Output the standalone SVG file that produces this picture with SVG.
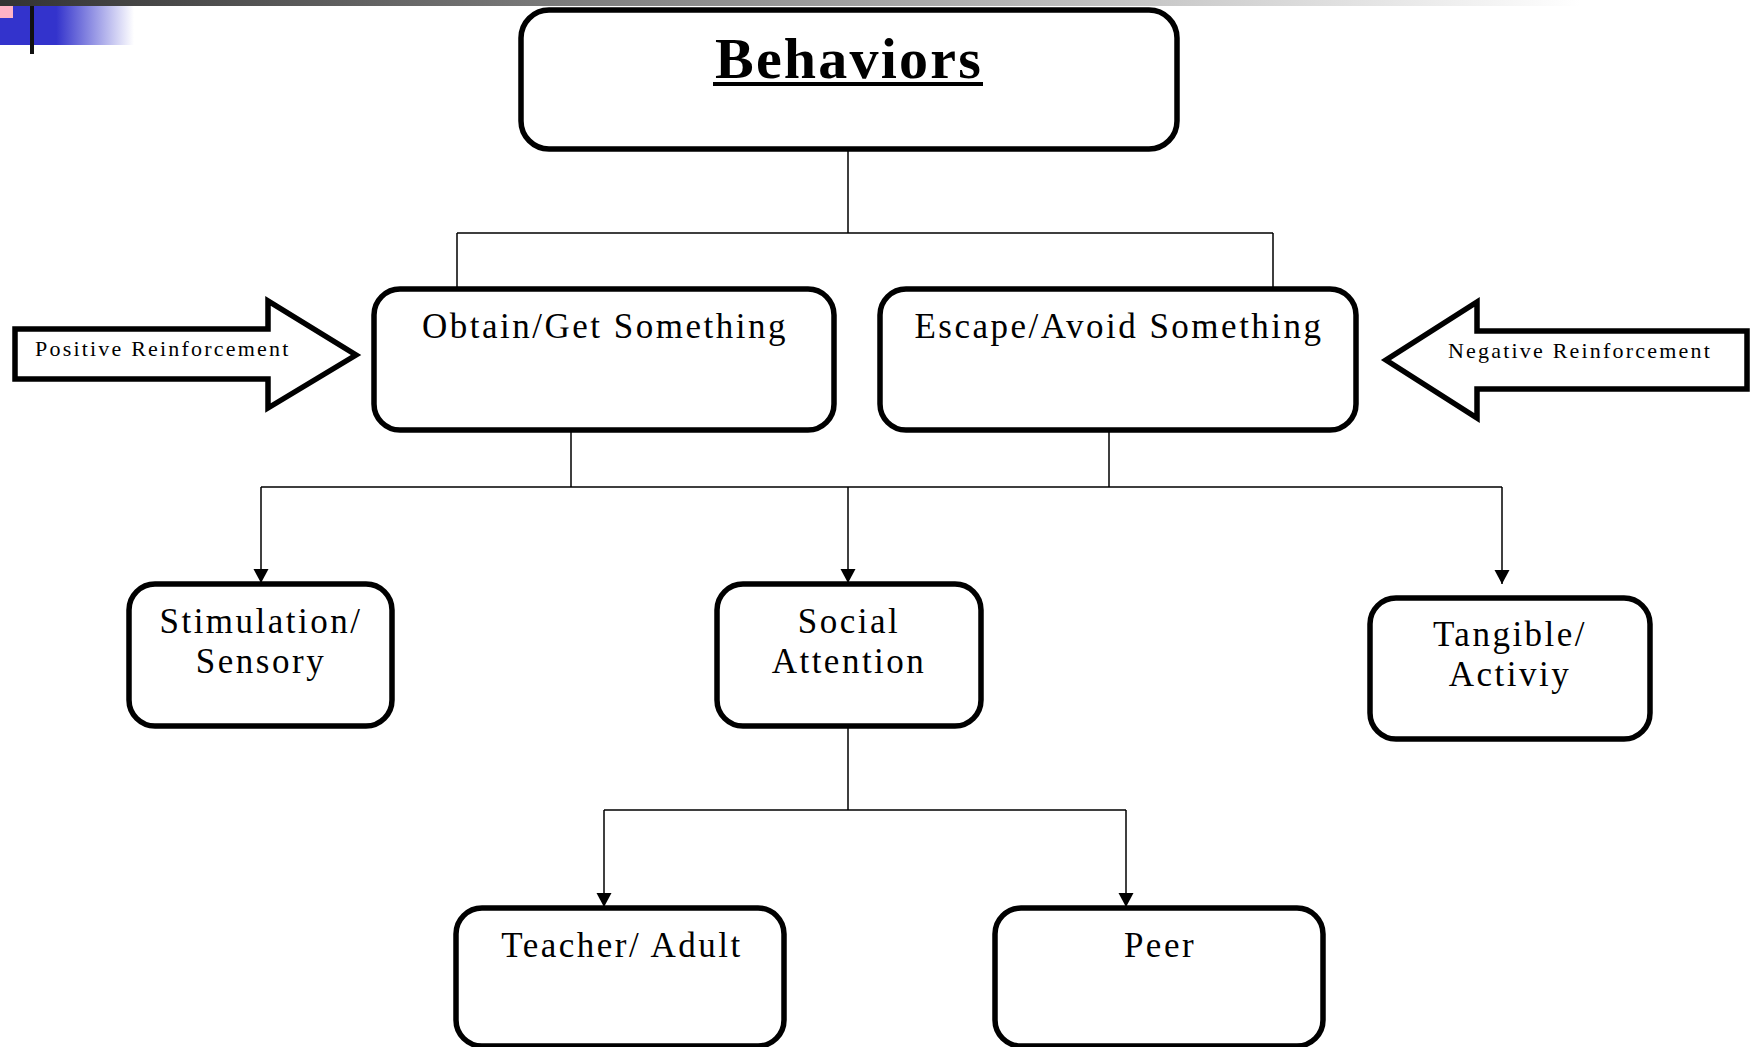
<svg xmlns="http://www.w3.org/2000/svg" width="1756" height="1047" viewBox="0 0 1756 1047">
<defs>
<linearGradient id="topbar" x1="0" y1="0" x2="1" y2="0">
<stop offset="0" stop-color="#333333"/>
<stop offset="0.9" stop-color="#ffffff"/>
</linearGradient>
<linearGradient id="blue" x1="0" y1="0" x2="1" y2="0">
<stop offset="0" stop-color="#3333cc"/>
<stop offset="0.42" stop-color="#3333cc"/>
<stop offset="1" stop-color="#ffffff"/>
</linearGradient>
<marker id="arr" markerUnits="userSpaceOnUse" markerWidth="16" markerHeight="16" viewBox="0 0 16 16" refX="14" refY="7.5" orient="auto">
<path d="M0,0 L14,7.5 L0,15 z" fill="#000"/>
</marker>
</defs>
<style>
.box{fill:#fff;stroke:#000;stroke-width:5.5}
.bigarrow{fill:#fff;stroke:#000;stroke-width:5.5;stroke-linejoin:miter}
.con{fill:none;stroke:#000;stroke-width:1.5}
.t{font-family:"Liberation Serif","Times New Roman",serif;font-size:35px;letter-spacing:2.5px;text-anchor:middle;fill:#000}
.s{font-family:"Liberation Serif","Times New Roman",serif;font-size:22px;letter-spacing:2.2px;fill:#000}
</style>
<rect width="1756" height="1047" fill="#fff"/>
<g id="decor">
<rect x="0" y="0" width="1756" height="6" fill="url(#topbar)"/>
<rect x="0" y="6" width="134" height="39" fill="url(#blue)"/>
<rect x="0" y="6" width="13" height="12" fill="#ffb3c6"/>
<rect x="30" y="6" width="4" height="48" fill="#111"/>
</g>
<g id="connectors">
<path class="con" d="M848,149 V233 M457,233 H1273 M457,233 V289 M1273,233 V289"/>
<path class="con" d="M571,430 V487 M1109,430 V487 M261,487 H1502"/>
<path class="con" d="M261,487 V583" marker-end="url(#arr)"/>
<path class="con" d="M848,487 V583" marker-end="url(#arr)"/>
<path class="con" d="M1502,487 V584" marker-end="url(#arr)"/>
<path class="con" d="M848,726 V810 M604,810 H1126"/>
<path class="con" d="M604,810 V907" marker-end="url(#arr)"/>
<path class="con" d="M1126,810 V907" marker-end="url(#arr)"/>
</g>
<g id="behaviors">
<rect class="box" x="521" y="10" width="656" height="139" rx="28"/>
<text x="849" y="78" font-family="Liberation Serif, Times New Roman, serif" font-size="58" font-weight="bold" letter-spacing="2.2" text-anchor="middle">Behaviors</text>
<rect x="713" y="82" width="270" height="4" fill="#000"/>
</g>
<g id="obtain">
<rect class="box" x="374" y="289" width="460" height="141" rx="26"/>
<text class="t" x="605" y="338">Obtain/Get Something</text>
</g>
<g id="escape">
<rect class="box" x="880" y="289" width="476" height="141" rx="26"/>
<text class="t" x="1119" y="338">Escape/Avoid Something</text>
</g>
<g id="positive">
<path class="bigarrow" d="M15,329 H268 V301 L356,355 L268,408 V379 H15 Z"/>
<text class="s" x="35" y="356">Positive Reinforcement</text>
</g>
<g id="negative">
<path class="bigarrow" d="M1747,331 H1477 V302 L1386,360 L1477,418 V389 H1747 Z"/>
<text class="s" x="1448" y="358">Negative Reinforcement</text>
</g>
<g id="stimulation">
<rect class="box" x="129" y="584" width="263" height="142" rx="26"/>
<text class="t" x="261" y="633">Stimulation/</text>
<text class="t" x="261" y="673">Sensory</text>
</g>
<g id="social">
<rect class="box" x="717" y="584" width="264" height="142" rx="26"/>
<text class="t" x="849" y="633">Social</text>
<text class="t" x="849" y="673">Attention</text>
</g>
<g id="tangible">
<rect class="box" x="1370" y="598" width="280" height="141" rx="26"/>
<text class="t" x="1510" y="646">Tangible/</text>
<text class="t" x="1510" y="686">Activiy</text>
</g>
<g id="teacher">
<rect class="box" x="456" y="908" width="328" height="138" rx="26"/>
<text class="t" x="622" y="957">Teacher/ Adult</text>
</g>
<g id="peer">
<rect class="box" x="995" y="908" width="328" height="138" rx="26"/>
<text class="t" x="1160" y="957">Peer</text>
</g>
</svg>
